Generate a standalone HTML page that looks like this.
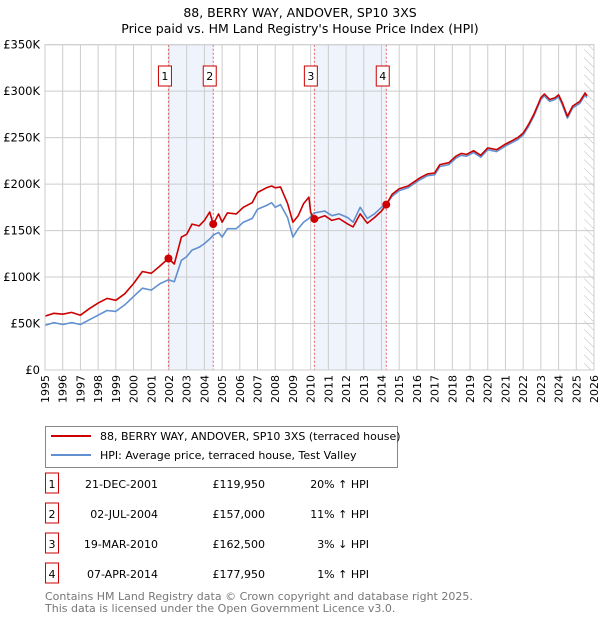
<!DOCTYPE html>
<html><head><meta charset="utf-8">
<style>
body{margin:0;background:#fff;font-family:"Liberation Sans","DejaVu Sans",sans-serif;}
svg text{font-family:"DejaVu Sans","Liberation Sans",sans-serif;}
</style></head>
<body>
<svg id="c" width="600" height="620" xmlns="http://www.w3.org/2000/svg">
<defs><pattern id="hatch" width="6" height="6" patternUnits="userSpaceOnUse" patternTransform="rotate(-45)"><line x1="0" y1="0" x2="0" y2="6" stroke="#bbb" stroke-width="1"/></pattern></defs>
<text x="300" y="17" text-anchor="middle" font-size="12.5">88, BERRY WAY, ANDOVER, SP10 3XS</text>
<text x="300" y="33" text-anchor="middle" font-size="12.5">Price paid vs. HM Land Registry's House Price Index (HPI)</text>
<g id="plot"></g>
<g>
<rect x="45.5" y="426.5" width="352" height="41" fill="#fff" stroke="#888"/>
<line x1="51" y1="436" x2="91" y2="436" stroke="#cc0000" stroke-width="2"/>
<text x="100" y="440" font-size="11">88, BERRY WAY, ANDOVER, SP10 3XS (terraced house)</text>
<line x1="51" y1="455" x2="91" y2="455" stroke="#6090d0" stroke-width="2"/>
<text x="100" y="459" font-size="11">HPI: Average price, terraced house, Test Valley</text>
</g>
<g id="table" font-size="11"></g>
<text x="45" y="600" font-size="11" fill="#777">Contains HM Land Registry data © Crown copyright and database right 2025.</text>
<text x="45" y="612" font-size="11" fill="#777">This data is licensed under the Open Government Licence v3.0.</text>
</svg>
<script>
const yearTicks=[1995,1996,1997,1998,1999,2000,2001,2002,2003,2004,2005,2006,2007,2008,2009,2010,2011,2012,2013,2014,2015,2016,2017,2018,2019,2020,2021,2022,2023,2024,2025,2026];
const priceTicks=[0,50,100,150,200,250,300,350];
const priceTickLabels=["£0","£50K","£100K","£150K","£200K","£250K","£300K","£350K"];
const redYears=[1995,1995.5,1996,1996.5,1997,1997.5,1998,1998.5,1999,1999.5,2000,2000.5,2001,2001.5,2001.97,2002.3,2002.7,2003,2003.3,2003.7,2004,2004.3,2004.5,2004.8,2005,2005.3,2005.8,2006.2,2006.7,2007,2007.5,2007.8,2008,2008.3,2008.7,2009,2009.3,2009.6,2009.9,2010,2010.2,2010.5,2010.8,2011.2,2011.6,2012.1,2012.4,2012.8,2013.2,2013.6,2014,2014.27,2014.6,2015,2015.5,2015.8,2016.2,2016.6,2017,2017.3,2017.8,2018.2,2018.5,2018.8,2019.2,2019.6,2020,2020.5,2021,2021.3,2021.7,2022,2022.3,2022.6,2023,2023.2,2023.5,2023.8,2024,2024.2,2024.5,2024.8,2025.2,2025.5,2025.6];
const redValues=[58,61,60,62,59,66,72,77,75,82,93,106,104,112,120,114,143,146,157,155,161,170,157,168,159,169,168,175,180,191,196,198,196,197,179,159,166,179,186,170,161,164,166,161,163,157,154,168,158,164,171,178,189,195,198,202,207,211,212,221,223,230,233,232,236,231,239,237,243,246,250,255,264,275,293,297,291,293,296,288,273,284,289,298,295];
const hpiYears=[1995,1995.5,1996,1996.5,1997,1997.5,1998,1998.5,1999,1999.5,2000,2000.5,2001,2001.5,2001.97,2002.3,2002.7,2003,2003.3,2003.7,2004,2004.3,2004.5,2004.8,2005,2005.3,2005.8,2006.2,2006.7,2007,2007.5,2007.8,2008,2008.3,2008.7,2009,2009.3,2009.6,2009.9,2010.2,2010.5,2010.8,2011.2,2011.6,2012.1,2012.4,2012.8,2013.2,2013.6,2014,2014.27,2014.6,2015,2015.5,2015.8,2016.2,2016.6,2017,2017.3,2017.8,2018.2,2018.5,2018.8,2019.2,2019.6,2020,2020.5,2021,2021.3,2021.7,2022,2022.3,2022.6,2023,2023.2,2023.5,2023.8,2024,2024.2,2024.5,2024.8,2025.2,2025.5,2025.6];
const hpiValues=[48,51,49,51,49,54,59,64,63,70,79,88,86,93,97,95,118,122,129,132,136,141,145,148,143,152,152,159,163,173,177,180,175,178,164,143,152,159,163,169,170,171,166,168,164,159,175,163,168,175,178,187,193,196,200,205,209,210,219,221,228,231,230,234,229,237,235,241,244,248,253,262,273,291,295,289,291,294,286,271,282,287,296,293];
const saleLabels=["1","2","3","4"];
const saleYears=[2001.97,2004.5,2010.21,2014.27];
const saleValues=[119.95,157,162.5,177.95];
const saleDates=["21-DEC-2001","02-JUL-2004","19-MAR-2010","07-APR-2014"];
const salePrices=["£119,950","£157,000","£162,500","£177,950"];
const saleHpi=["20% ↑ HPI","11% ↑ HPI","3% ↓ HPI","1% ↑ HPI"];

const NS="http://www.w3.org/2000/svg";
const X0=45,X1=594,Y0=370,Y1=44.7;
const xs=y=>X0+(y-1995)/(2026-1995)*(X1-X0);
const ys=v=>Y0-v/350*(Y0-Y1);
const plot=document.getElementById('plot');
function mk(tag,attrs,parent){const e=document.createElementNS(NS,tag);for(const k in attrs)e.setAttribute(k,attrs[k]);(parent||plot).appendChild(e);return e;}
// shaded spans
for(let i=0;i<4;i+=2){
 const r=mk('rect',{x:xs(saleYears[i]),y:Y1,width:xs(saleYears[i+1])-xs(saleYears[i]),height:Y0-Y1,fill:'#eef3fc'});
 
 
}
// hatch
const h=mk('rect',{x:xs(2025.45),y:Y1,width:X1-xs(2025.45),height:Y0-Y1,fill:'url(#hatch)'});


// grid
yearTicks.forEach(t=>{
 const l=mk('line',{x1:xs(t),x2:xs(t),y1:Y1,y2:Y0,stroke:'#ccc','stroke-width':1});
 
 
 const tx=mk('text',{x:0,y:0,'font-size':11,'text-anchor':'end',transform:`translate(${xs(t)+4},${Y0+5}) rotate(-90)`});
 tx.textContent=t;
 
 
});
priceTicks.forEach((p,i)=>{
 const l=mk('line',{x1:X0,x2:X1,y1:ys(p),y2:ys(p),stroke:'#ccc','stroke-width':1});
 
 
 const tx=mk('text',{x:X0-5,y:ys(p)+4,'font-size':11.5,'text-anchor':'end'});
 tx.textContent=priceTickLabels[i];
 
 
});
// sale vlines
saleYears.forEach((s,i)=>{
 const l=mk('line',{x1:xs(s),x2:xs(s),y1:Y1,y2:Y0,stroke:'#e06060','stroke-width':1,'stroke-dasharray':'2,2'});
 
 
});
function path(xa,va,color,name){
 const d=xa.map((x,i)=>(i?'L':'M')+xs(x).toFixed(1)+','+ys(va[i]).toFixed(1)).join('');
 const p=mk('path',{d:d,fill:'none',stroke:color,'stroke-width':1.6,'stroke-linejoin':'round'});
 
 
}
path(hpiYears,hpiValues,'#6090d0','hpi-line');
path(redYears,redValues,'#cc0000','property-price-line');
saleYears.forEach((s,i)=>{
 const c=mk('circle',{cx:xs(s),cy:ys(saleValues[i]),r:4,fill:'#cc0000'});
 
 
 const bx=xs(s)-10;
 const r=mk('rect',{x:bx,y:66,width:13,height:20,fill:'#fff',stroke:'#cc0000','stroke-width':1});
 
 
 const t=mk('text',{x:bx+6.5,y:80,'font-size':11,'text-anchor':'middle'});
 t.textContent=saleLabels[i];
 
 
});
// axis frame
const ax=mk('rect',{x:X0,y:Y1,width:X1-X0,height:Y0-Y1,fill:'none',stroke:'#ccc'});


// table
const tb=document.getElementById('table');
saleLabels.forEach((s,i)=>{
 const y=488+i*30;
 const r=mk('rect',{x:45.5,y:y-15,width:13,height:20,fill:'#fff',stroke:'#cc0000'},tb);
 
 
 const cols=[[52,s,'middle'],[158,saleDates[i],'end'],[265,salePrices[i],'end'],[369,saleHpi[i],'end']];
 cols.forEach((c,j)=>{
  const t=mk('text',{x:c[0],y:y,'text-anchor':c[2]},tb);
  t.textContent=c[1];
  
  
 });
});
</script>
</body></html>
